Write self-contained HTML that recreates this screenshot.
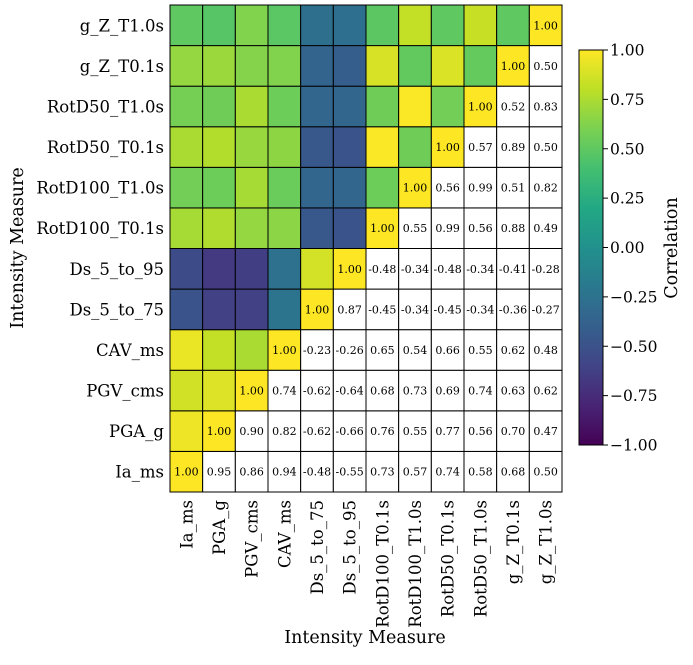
<!DOCTYPE html>
<html><head><meta charset="utf-8"><style>
body{margin:0;background:#fff}
svg text{font-family:"DejaVu Serif","Liberation Serif",serif;fill:#000}
</style></head><body>
<svg id="chart" width="693" height="660" viewBox="0 0 693 660" xmlns="http://www.w3.org/2000/svg">
<defs><linearGradient id="vg" x1="0" y1="1" x2="0" y2="0"></linearGradient></defs>
<g id="cells"></g><g id="labels"></g><g id="cbar"></g>
</svg>
<script>
const measures = ["Ia_ms","PGA_g","PGV_cms","CAV_ms","Ds_5_to_75","Ds_5_to_95","RotD100_T0.1s","RotD100_T1.0s","RotD50_T0.1s","RotD50_T1.0s","g_Z_T0.1s","g_Z_T1.0s"];
const rowIa = [1.00,0.95,0.86,0.94,-0.48,-0.55,0.73,0.57,0.74,0.58,0.68,0.50];
const rowPGA = [1.00,0.90,0.82,-0.62,-0.66,0.76,0.55,0.77,0.56,0.70,0.47];
const rowPGV = [1.00,0.74,-0.62,-0.64,0.68,0.73,0.69,0.74,0.63,0.62];
const rowCAV = [1.00,-0.23,-0.26,0.65,0.54,0.66,0.55,0.62,0.48];
const rowDs75 = [1.00,0.87,-0.45,-0.34,-0.45,-0.34,-0.36,-0.27];
const rowDs95 = [1.00,-0.48,-0.34,-0.48,-0.34,-0.41,-0.28];
const rowR100a = [1.00,0.55,0.99,0.56,0.88,0.49];
const rowR100b = [1.00,0.56,0.99,0.51,0.82];
const rowR50a = [1.00,0.57,0.89,0.50];
const rowR50b = [1.00,0.52,0.83];
const rowGZa = [1.00,0.50];
const rowGZb = [1.00];
const cbTicks = [1.00,0.75,0.50,0.25,0.00,-0.25,-0.50,-0.75,-1.00];

const upper=[rowIa,rowPGA,rowPGV,rowCAV,rowDs75,rowDs95,rowR100a,rowR100b,rowR50a,rowR50b,rowGZa,rowGZb];
const n=measures.length;
function val(r,c){ if(c<r){const t=r;r=c;c=t;} return upper[r][c-r]; }
const stops=[[0,"#440154"],[0.1,"#482475"],[0.2,"#414487"],[0.3,"#355f8d"],[0.4,"#2a788e"],[0.5,"#21918c"],[0.6,"#22a884"],[0.7,"#44bf70"],[0.8,"#7ad151"],[0.9,"#bddf26"],[1,"#fde725"]];
function hex(h){return [1,3,5].map(i=>parseInt(h.substr(i,2),16));}
function viridis(t){t=Math.max(0,Math.min(1,t));for(let i=1;i<stops.length;i++){if(t<=stops[i][0]){const a=stops[i-1],b=stops[i];const f=(t-a[0])/(b[0]-a[0]);const ca=hex(a[1]),cb=hex(b[1]);return "rgb("+ca.map((v,k)=>Math.round(v+(cb[k]-v)*f)).join(",")+")";}}return stops[stops.length-1][1];}
const X0=170,X1=562,Y0=5,Y1=492;
const cw=(X1-X0)/n,ch=(Y1-Y0)/n;
const xPos=c=>X0+c*cw;
const yPos=r=>Y1-(r+1)*ch;
const NS="http://www.w3.org/2000/svg";
function mk(tag,attrs,parent,txt){const e=document.createElementNS(NS,tag);for(const k in attrs)e.setAttribute(k,attrs[k]);if(txt!==undefined)e.textContent=txt;parent.appendChild(e);return e;}
const cells=document.getElementById("cells"),labels=document.getElementById("labels"),cbar=document.getElementById("cbar");
for(let r=0;r<n;r++)for(let c=0;c<n;c++){
 const v=val(r,c);
 let fill;
 if(c<r) fill=viridis((v+1)/2); else if(c===r) fill=viridis(1); else fill="#fff";
 const rc=mk("rect",{x:xPos(c),y:yPos(r),width:cw,height:ch,fill:fill,stroke:"#000","stroke-width":1},cells);
 
 
 if(c>=r){
  const t=mk("text",{x:xPos(c)+cw/2,y:yPos(r)+ch/2+4,"text-anchor":"middle","font-size":11},cells,v.toFixed(2));
  
  
 }
}
for(let i=0;i<n;i++){
 const yl=mk("text",{x:X0-6,y:yPos(i)+ch/2+6,"text-anchor":"end","font-size":16.5},labels,measures[i]);
 
 
 const cx=xPos(i)+cw/2+6;
 const xl=mk("text",{x:cx,y:Y1+8,"text-anchor":"end","font-size":16.5,transform:"rotate(-90 "+cx+" "+(Y1+8)+")"},labels,measures[i]);
 
 
}
const xt=mk("text",{x:365,y:643,"text-anchor":"middle","font-size":17.5},labels,"Intensity Measure");


const yt=mk("text",{x:23,y:248,"text-anchor":"middle","font-size":17.5,transform:"rotate(-90 23 248)"},labels,"Intensity Measure");


const g=document.getElementById("vg");
for(let i=0;i<=20;i++){mk("stop",{offset:(i/20),"stop-color":viridis(i/20)},g);}
const CX=579,CW=24,CT=50,CB=445;
const cr=mk("rect",{x:CX,y:CT,width:CW,height:CB-CT,fill:"url(#vg)",stroke:"#000","stroke-width":1},cbar);


const cy=v=>CB-(v+1)/2*(CB-CT);
cbTicks.forEach(v=>{
 mk("line",{x1:CX+CW,x2:CX+CW+5,y1:cy(v),y2:cy(v),stroke:"#000"},cbar);
 const t=mk("text",{x:CX+CW+7,y:cy(v)+5.5,"font-size":15.5},cbar,(v<0?"\u2212"+Math.abs(v).toFixed(2):v.toFixed(2)));
 
 
});
const cl=mk("text",{x:677,y:248,"text-anchor":"middle","font-size":17.5,transform:"rotate(-90 677 248)"},cbar,"Correlation");


</script>
</body></html>
